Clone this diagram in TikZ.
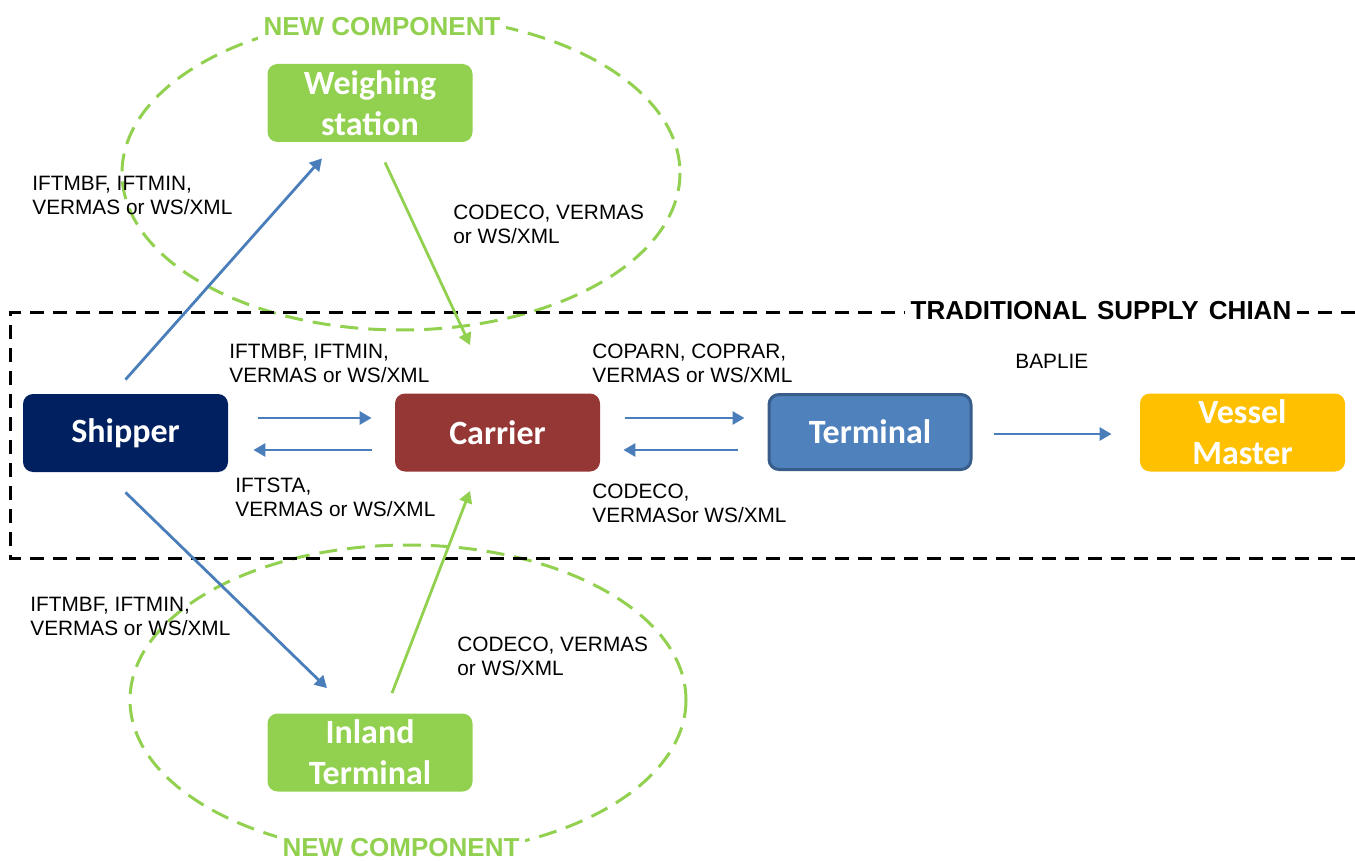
\documentclass[tikz,border=0pt]{standalone}
\usepackage{fontspec}
\setmainfont{Liberation Sans}
\newfontfamily\boxfont{Carlito}
\usetikzlibrary{arrows.meta,calc}
\definecolor{navy}{HTML}{002060}
\definecolor{carrierred}{HTML}{953735}
\definecolor{termblue}{HTML}{4F81BD}
\definecolor{termborder}{HTML}{385D8A}
\definecolor{vesselyellow}{HTML}{FFC000}
\definecolor{newgreen}{HTML}{92D050}
\definecolor{arrowblue}{HTML}{4A7EBB}
\begin{document}
\begin{tikzpicture}[x=0.5pt,y=-0.5pt,
 box/.style={rounded corners=5pt, minimum width=102.5pt, minimum height=39pt, inner sep=0pt, align=center, text=white, font=\boxfont\bfseries\fontsize{17}{20.5}\selectfont},
 lbl/.style={anchor=north west, inner sep=0pt, align=left, font=\fontsize{10.4}{12}\selectfont},
 blueflow/.style={draw=arrowblue, line width=1.4pt, -{Triangle[length=6pt,width=6.5pt]}},
 greenflow/.style={draw=newgreen, line width=1.4pt, -{Triangle[length=6pt,width=6.5pt]}},
 zone/.style={draw=newgreen, line width=1.5pt, dash pattern=on 9pt off 5pt},
 chain/.style={draw=black, line width=1.5pt, dash pattern=on 7pt off 4.5pt},
 tag/.style={fill=white, inner sep=3pt, font=\bfseries\fontsize{13}{15}\selectfont}]
\useasboundingbox (0,0) rectangle (1355,861);

% new component zones
\draw[zone] (401,173) ellipse [x radius=279, y radius=157];
\draw[zone] (408,700) ellipse [x radius=278, y radius=155];

% traditional supply chain frame
\draw[chain] (1355,313) -- (10,313) -- (10,558) -- (1355,558);
\node[tag, text=black] (tsc) at (1101,311) {TRADITIONAL\hspace{1.5pt} SUPPLY\hspace{1.5pt} CHIAN};
\node[tag, text=newgreen] (nc1) at (382,27) {NEW COMPONENT};
\node[tag, text=newgreen] (nc2) at (401,848) {NEW COMPONENT};

% boxes
\node[box, fill=newgreen] (weigh) at (370,103) {Weighing\\station};
\node[box, fill=navy] (shipper) at (125.5,433) {Shipper};
\node[box, fill=carrierred] (carrier) at (497.5,432.5) {Carrier};
\node[box, fill=termblue, draw=termborder, line width=1.5pt, minimum width=101pt, minimum height=37.5pt] (terminal) at (870,432) {Terminal};
\node[box, fill=vesselyellow] (vessel) at (1242.5,432.5) {Vessel\\Master};
\node[box, fill=newgreen] (inland) at (370,752.5) {Inland\\Terminal};

% flows
\draw[blueflow] ($(shipper.north)+(0,-14)$) -- ($(weigh.south)+(-48,16)$);
\draw[blueflow] ($(shipper.east)+(30,-15)$) -- ($(carrier.west)+(-23,-14.5)$);
\draw[blueflow] ($(carrier.west)+(-23,17.5)$) -- ($(shipper.east)+(25,17)$);
\draw[blueflow] ($(carrier.east)+(25,-14.5)$) -- ($(terminal.west)+(-23,-14)$);
\draw[blueflow] ($(terminal.west)+(-30,18)$) -- ($(carrier.east)+(23,17.5)$);
\draw[blueflow] ($(terminal.east)+(21,2)$) -- ($(vessel.west)+(-28,1.5)$);
\draw[blueflow] ($(shipper.south)+(0,20)$) -- ($(inland.north)+(-43,-25)$);
\draw[greenflow] ($(weigh.south)+(15,20)$) -- ($(carrier.north)+(-27.5,-48)$);
\draw[greenflow] ($(inland.north)+(22,-20)$) -- ($(carrier.south)+(-27.5,19)$);

% labels
\node[lbl] (l1) at (32,176) {IFTMBF, IFTMIN,\\VERMAS or WS/XML};
\node[lbl] (l2) at (453,205) {CODECO, VERMAS\\or WS/XML};
\node[lbl] (l3) at (229,344) {IFTMBF, IFTMIN,\\VERMAS or WS/XML};
\node[lbl] (l4) at (235,478) {IFTSTA,\\VERMAS or WS/XML};
\node[lbl] (l5) at (592,344) {COPARN, COPRAR,\\VERMAS or WS/XML};
\node[lbl] (l6) at (592,484) {CODECO,\\VERMASor WS/XML};
\node[lbl] (l7) at (1015,354) {BAPLIE};
\node[lbl] (l8) at (30,597) {IFTMBF, IFTMIN,\\VERMAS or WS/XML};
\node[lbl] (l9) at (457,637) {CODECO, VERMAS\\or WS/XML};
\end{tikzpicture}
\end{document}
